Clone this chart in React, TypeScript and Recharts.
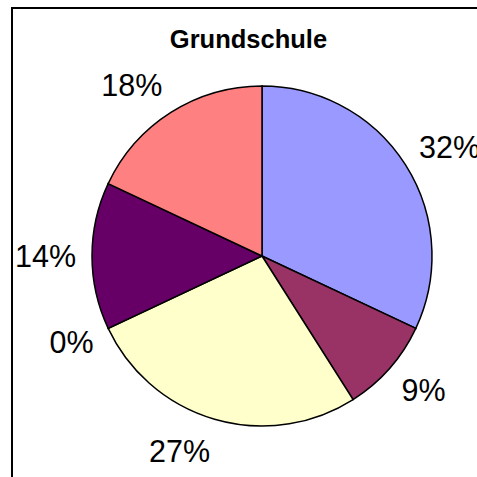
import React from 'react';
import { PieChart, Pie, Cell } from 'recharts';

const categories = ['A', 'B', 'C', 'D', 'E', 'F'];
const shares = [32, 9, 27, 0, 14, 18];
const sliceColors = ['#9999FF', '#993366', '#FFFFCC', '#CCFFFF', '#660066', '#FF8080'];

const data = categories.map((name, i) => ({ name, value: shares[i] }));

const RADIAN = Math.PI / 180;

const renderLabel = (props: any) => {
  const { cx, cy, midAngle, outerRadius, percent, index } = props;
  const r = outerRadius + 16;
  const cos = Math.cos(midAngle * RADIAN);
  const sin = Math.sin(midAngle * RADIAN);
  const x = cx + r * cos;
  const y = cy - r * sin;
  const anchor = cos > 0.02 ? 'start' : cos < -0.02 ? 'end' : 'middle';
  // push labels away from the pie vertically, a bit more near top/bottom
  const dy = -sin * 17;
  return (
    <text
      key={`lbl-${index}`}
      x={x}
      y={y + dy}
      textAnchor={anchor}
      dominantBaseline="central"
      fill="#000"
      fontSize={30.5}
      fontFamily="'Liberation Sans', Arial, sans-serif"
    >
      {`${Math.round(percent * 100)}%`}
    </text>
  );
};

export default function App() {
  return (
    <div style={{ position: 'fixed', left: 0, top: 0, width: 477, height: 477, background: '#fff', overflow: 'hidden' }}>
      <div
        style={{
          position: 'absolute',
          left: 11,
          top: 7,
          width: 500,
          height: 500,
          border: '2px solid #000',
        }}
      />
      <div
        style={{
          position: 'absolute',
          left: 0,
          width: 497,
          top: 27,
          textAlign: 'center',
          fontFamily: "'Liberation Sans', Arial, sans-serif",
          fontWeight: 'bold',
          fontSize: 25.5,
          lineHeight: '24px',
        }}
      >
        Grundschule
      </div>
      <div style={{ position: 'absolute', left: 0, top: 0 }}>
        <PieChart width={477} height={477} margin={{ top: 0, right: 0, bottom: 0, left: 0 }}>
          <Pie
            data={data}
            dataKey="value"
            nameKey="name"
            cx={262}
            cy={256}
            outerRadius={170}
            startAngle={90}
            endAngle={-270}
            stroke="#000"
            strokeWidth={1.5}
            label={renderLabel}
            labelLine={false}
            isAnimationActive={false}
          >
            {data.map((d, i) => (
              <Cell key={d.name} fill={sliceColors[i]} />
            ))}
          </Pie>
        </PieChart>
      </div>
    </div>
  );
}
